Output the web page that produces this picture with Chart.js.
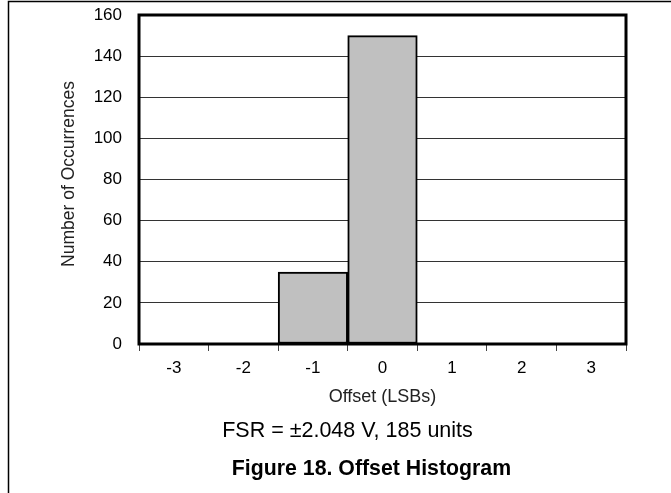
<!DOCTYPE html>
<html>
<head>
<meta charset="utf-8">
<script src="https://cdn.jsdelivr.net/npm/chart.js@4/dist/chart.umd.min.js"></script>
<style>
  html, body { margin: 0; padding: 0; background: #fff; }
  #wrap { position: relative; width: 671px; height: 493px; }
  canvas { display: block; }
</style>
</head>
<body>
<div id="wrap"><canvas id="c" width="671" height="493"></canvas></div>
<script>
const categories = ["-3", "-2", "-1", "0", "1", "2", "3"];
const occurrences = [0, 0, 35, 150, 0, 0, 0];
const yTicks = [0, 20, 40, 60, 80, 100, 120, 140, 160];
const xTitle = "Offset (LSBs)";
const yTitle = "Number of Occurrences";
const noteText = "FSR = \u00B12.048 V, 185 units";
const captionText = "Figure 18. Offset Histogram";

const FONT = "'Liberation Sans', Arial, Helvetica, sans-serif";

const framePlugin = {
  id: 'frame',
  afterDatasetsDraw(chart) {
    const ctx = chart.ctx;
    const a = chart.chartArea;
    ctx.save();
    ctx.strokeStyle = '#000';
    ctx.lineWidth = 3;
    ctx.strokeRect(a.left, a.top, a.right - a.left, a.bottom - a.top);
    ctx.restore();
  },
  afterDraw(chart) {
    const ctx = chart.ctx;
    ctx.save();
    ctx.strokeStyle = '#000';
    ctx.lineWidth = 1.5;
    ctx.beginPath();
    ctx.moveTo(8.5, 493);
    ctx.lineTo(8.5, 1.5);
    ctx.lineTo(671, 1.5);
    ctx.stroke();
    ctx.fillStyle = '#000';
    ctx.textAlign = 'center';
    ctx.textBaseline = 'alphabetic';
    ctx.font = "21.5px " + FONT;
    ctx.fillText(noteText, 347.5, 437);
    ctx.font = "bold 21.3px " + FONT;
    ctx.fillText(captionText, 371.5, 475);
    // y-axis title
    ctx.translate(69, 174);
    ctx.rotate(-Math.PI / 2);
    ctx.textBaseline = 'middle';
    ctx.fillStyle = '#222';
    ctx.font = "17.5px " + FONT;
    ctx.fillText(yTitle, 0, 0);
    ctx.restore();
  }
};

new Chart(document.getElementById('c'), {
  type: 'bar',
  data: {
    labels: categories,
    datasets: [{
      data: occurrences,
      backgroundColor: '#c0c0c0',
      borderColor: '#000',
      borderWidth: 2,
      borderSkipped: false,
      barPercentage: 1,
      categoryPercentage: 1
    }]
  },
  options: {
    responsive: false,
    animation: false,
    events: [],
    layout: { padding: { left: 0, right: 45, top: 15, bottom: 0 } },
    plugins: { legend: { display: false }, tooltip: { enabled: false } },
    scales: {
      x: {
        offset: true,
        grid: { offset: true, drawOnChartArea: false, drawTicks: true, tickLength: 7, color: '#444', lineWidth: 1 },
        border: { display: false },
        ticks: { color: '#000', font: { family: FONT, size: 17 }, padding: 7, maxRotation: 0 },
        title: { display: true, text: xTitle, color: '#222', font: { family: FONT, size: 18 }, padding: { top: 0, bottom: 85 } },
        afterFit(s) { s.height = 149; s.paddingLeft = 0; s.paddingRight = 0; }
      },
      y: {
        min: 0, max: 160,
        afterBuildTicks(s) { s.ticks = yTicks.map(v => ({ value: v })); },
        grid: { drawTicks: false, color: '#333', lineWidth: 1 },
        border: { display: false },
        ticks: { color: '#000', font: { family: FONT, size: 17 }, padding: 17 },
        title: { display: false },
        afterFit(s) { s.width = 139; s.paddingTop = 0; s.paddingBottom = 0; }
      }
    }
  },
  plugins: [framePlugin]
});
</script>
</body>
</html>
